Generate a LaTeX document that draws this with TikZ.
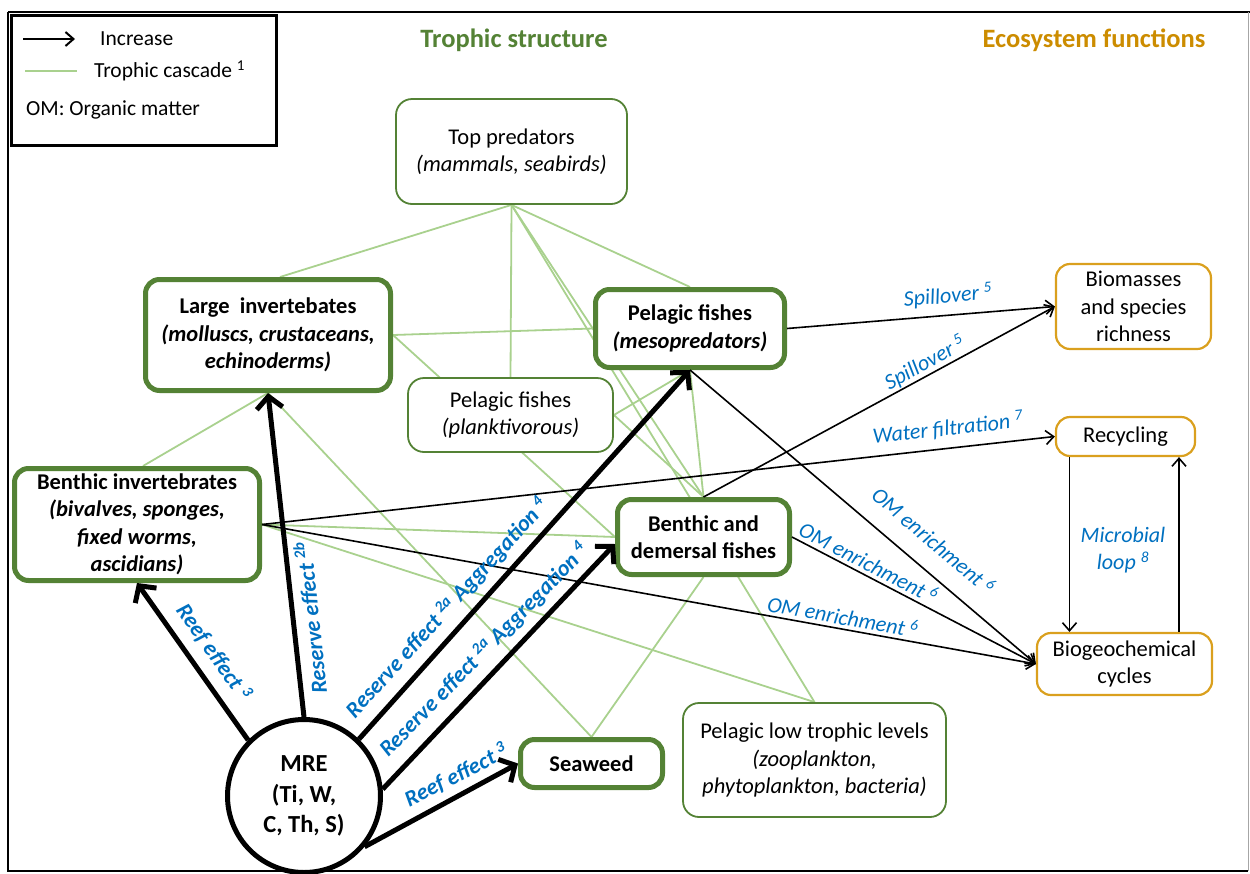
\documentclass[tikz,border=0pt]{standalone}
\usepackage{fontspec}
\setmainfont{Carlito}
\usetikzlibrary{arrows.meta,backgrounds}
\definecolor{gdark}{RGB}{84,130,53}
\definecolor{glight}{RGB}{169,209,142}
\definecolor{otitle}{RGB}{204,140,0}
\definecolor{obox}{RGB}{218,160,30}
\definecolor{lblue}{RGB}{0,112,192}
\begin{document}
\begin{tikzpicture}[x=1pt,y=-1pt,
  thickbox/.style={draw=gdark, line width=5pt, rounded corners=14pt, fill=white, align=center, inner sep=0pt, font=\fontsize{22.5}{27.5}\selectfont\bfseries},
  thinbox/.style={draw=gdark, line width=1.8pt, rounded corners=16pt, fill=white, align=center, inner sep=0pt, font=\fontsize{22.5}{27.5}\selectfont},
  funcbox/.style={draw=obox, line width=2.2pt, rounded corners=14pt, fill=white, align=center, inner sep=0pt, font=\fontsize{22.5}{27.5}\selectfont},
  troph/.style={glight, line width=1.8pt},
  inc/.style={line width=1.6pt, -{Straight Barb[length=8pt,width=14pt]}},
  bigarrow/.style={line width=5pt, -{Straight Barb[length=12pt,width=26pt]}},
  lbl/.style={text=lblue, font=\fontsize{22}{27.5}\selectfont\itshape, inner sep=0pt, align=center},
  blbl/.style={text=lblue, font=\fontsize{22.5}{27.5}\selectfont\bfseries\itshape, inner sep=0pt},
  legtext/.style={anchor=west, inner sep=0pt, font=\fontsize{21.5}{25}\selectfont},
  titletext/.style={inner sep=0pt, font=\fontsize{26.5}{30}\selectfont\bfseries},
]
\useasboundingbox (0,0) rectangle (1250,873);
% frame
\draw[line width=2.5pt] (8,12) -- (1250,12);
\draw[line width=2.5pt] (8,12) -- (8,871) -- (1248,871);
\draw[black!35, line width=1pt] (1248,12) -- (1248,871);
% legend
\node[draw, line width=3pt, minimum width=265, minimum height=130, anchor=north west, inner sep=0pt] (legend) at (9.5,13.5) {};
\coordinate (l1a) at (23,39);
\coordinate (l1b) at (75,39);
\draw[line width=2pt, -{Straight Barb[length=8pt,width=14pt]}] (l1a) -- (l1b);
\node[legtext] (l1t) at (100,39) {Increase};
\coordinate (l2a) at (25,71);
\coordinate (l2b) at (77,71);
\draw[troph] (l2a) -- (l2b);
\node[legtext] (l2t) at (94,71) {Trophic cascade \textsuperscript{1}};
\node[legtext] (l3t) at (26,110) {OM: Organic matter};
% titles
\node[titletext, text=gdark] (t1) at (514,40) {Trophic structure};
\node[titletext, text=otitle] (t2) at (1094,40) {Ecosystem functions};
% trophic nodes
\node[thinbox, minimum width=231, minimum height=105] (tp) at (511.5,151.5) {Top predators\\\textit{(mammals, seabirds)}};
\node[thickbox, minimum width=245, minimum height=111] (li) at (268,335) {Large\ \ invertebates\\\textit{(molluscs, crustaceans,}\\\textit{echinoderms)}};
\node[thickbox, minimum width=189, minimum height=78] (meso) at (690,328.5) {Pelagic fishes\\\textit{(mesopredators)}};
\node[thinbox, minimum width=205, minimum height=74] (plankt) at (510.5,415) {Pelagic fishes\\\textit{(planktivorous)}};
\node[thickbox, minimum width=245, minimum height=112] (bi) at (137,524.5) {Benthic invertebrates\\\textit{(bivalves, sponges,}\\\textit{fixed worms,}\\\textit{ascidians)}};
\node[thickbox, minimum width=172, minimum height=75] (bd) at (703.5,537) {Benthic and\\demersal fishes};
\node[thickbox, minimum width=142, minimum height=48] (sw) at (591.5,763.5) {Seaweed};
\node[thinbox, minimum width=263, minimum height=114] (pl) at (814.5,760) {Pelagic low trophic levels\\\textit{(zooplankton,}\\\textit{phytoplankton, bacteria)}};
\node[circle, draw, line width=5pt, fill=white, minimum size=153, inner sep=0pt, align=center, font=\fontsize{24.5}{30.5}\selectfont\bfseries] (mre) at (304,796) {MRE\\(Ti, W,\\C, Th, S)};
% function nodes
\node[funcbox, minimum width=155, minimum height=85] (biom) at (1133.5,306.5) {Biomasses\\and species\\richness};
\node[funcbox, minimum width=139, minimum height=39] (rec) at (1125.5,436.5) {Recycling};
\node[funcbox, minimum width=175, minimum height=62] (biog) at (1124.5,664) {Biogeochemical\\cycles};
% trophic cascade links
\begin{scope}[on background layer]
\draw[troph] (tp.south) -- ([xshift=12pt]li.north);
\draw[troph] (tp.south) -- (plankt.north);
\draw[troph] (tp.south) -- (meso.north);
\draw[troph] (tp.south) -- (bd.north);
\draw[troph] (tp.south) -- (pl.north);
\draw[troph] (li.east) -- (meso.west);
\draw[troph] (li.east) -- (bd.west);
\draw[troph] (li.south) -- ([xshift=6pt]bi.north);
\draw[troph] (li.south) -- (sw.north);
\draw[troph] (bi.east) -- (bd.west);
\draw[troph] (bi.east) -- (pl.north);
\draw[troph] (plankt.east) -- (meso.south);
\draw[troph] (plankt.east) -- (bd.north);
\draw[troph] (meso.south) -- (bd.north);
\draw[troph] (bd.south) -- (sw.north);
\end{scope}
% thin increase arrows
\draw[inc] (meso.east) -- (biom.west);
\draw[inc] (bd.north) -- (biom.west);
\draw[inc] (bi.east) -- (rec.west);
\draw[inc] (meso.south) -- (biog.west);
\draw[inc] (bd.east) -- (biog.west);
\draw[inc] (bi.east) -- (biog.west);
\draw[inc] ([xshift=-56pt]rec.south) -- ([xshift=-56pt]rec.south |- biog.north);
\draw[inc] ([xshift=54.5pt]biog.north) -- ([xshift=54.5pt]biog.north |- rec.south);
% thick MRE arrows
\draw[bigarrow] (mre.135) -- (bi.south);
\draw[bigarrow] (mre.90) -- (li.south);
\draw[bigarrow] (mre.46) -- (meso.south);
\draw[bigarrow] (mre.5) -- ([yshift=-7pt]bd.west);
\draw[bigarrow] (mre.-40) -- (sw.west);
% labels
\node[lbl, rotate=5] (s1) at (948,296) {Spillover \textsuperscript{5}};
\node[lbl, rotate=28.4] (s2) at (925,363) {Spillover \textsuperscript{5}};
\node[lbl, rotate=6.3] (wf) at (948,428) {Water filtration \textsuperscript{7}};
\node[lbl, rotate=-40.4] (om1) at (934,540) {OM enrichment \textsuperscript{6}};
\node[lbl, rotate=-27.5] (om2) at (869,562) {OM enrichment \textsuperscript{6}};
\node[lbl, rotate=-10.2] (om3) at (843,616) {OM enrichment \textsuperscript{6}};
\node[lbl] (ml) at (1123,550) {Microbial\\loop \textsuperscript{8}};
\node[blbl, rotate=-55] (re1) at (214,652) {Reef effect \textsuperscript{3}};
\node[blbl, rotate=96] (rs2b) at (310,618) {Reserve effect \textsuperscript{2b}};
\node[blbl, rotate=47.6] (rs1) at (447,608) {Reserve effect \textsuperscript{2a} Aggregation \textsuperscript{4}};
\node[blbl, rotate=45.6] (rs2) at (484,650) {Reserve effect \textsuperscript{2a} Aggregation \textsuperscript{4}};
\node[blbl, rotate=27] (re2) at (456,775) {Reef effect \textsuperscript{3}};
\end{tikzpicture}
\end{document}
